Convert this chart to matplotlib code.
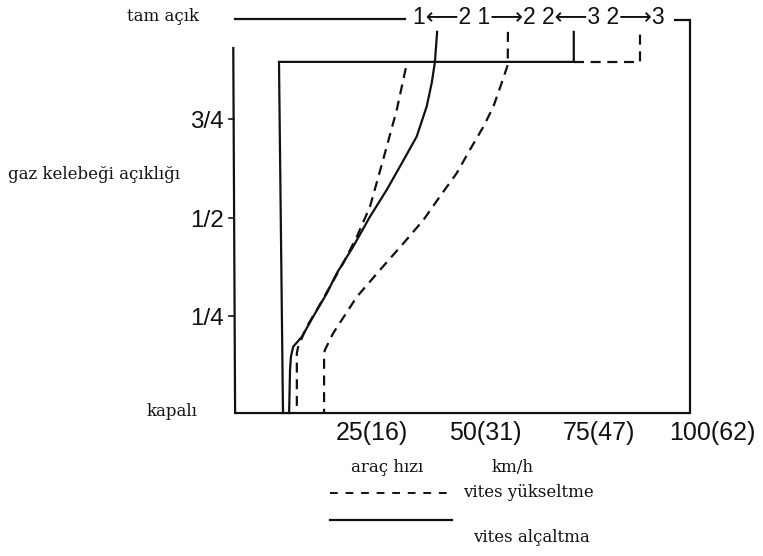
import matplotlib
matplotlib.use("Agg")
import matplotlib.pyplot as plt
from matplotlib.transforms import offset_copy

# Shift map of a two/three speed automatic: vehicle speed (km/h) vs throttle opening
# (0 = kapalı / closed, 1 = tam açık / wide open)

# 1<-2 downshift line (solid)
down_12_speed = [44.3, 43.8, 43.1, 42.0, 39.8, 36.5, 33.2, 29.5, 25.8, 22.2,
                 20.0, 17.0, 14.5, 12.6, 12.1, 11.9, 11.7]
down_12_throttle = [0.970, 0.892, 0.840, 0.781, 0.705, 0.637, 0.570, 0.502, 0.426,
                    0.359, 0.308, 0.249, 0.198, 0.173, 0.148, 0.114, 0.005]

# inner dashed upshift line
up_a_speed = [37.4, 35.4, 32.4, 29.5, 26.6, 23.6, 20.7, 17.8, 15.6, 13.7, 13.4, 13.4]
up_a_throttle = [0.878, 0.772, 0.646, 0.527, 0.451, 0.384, 0.325, 0.266, 0.224,
                 0.173, 0.157, 0.005]

# 1->2 upshift line (dashed)
up_12_speed = [59.9, 59.85, 58.5, 56.7, 54.5, 51.5, 48.6, 44.9, 41.3, 36.9, 31.7,
               26.6, 21.4, 19.6, 19.4, 19.4]
up_12_throttle = [0.970, 0.886, 0.840, 0.781, 0.730, 0.671, 0.612, 0.553, 0.494,
                  0.435, 0.367, 0.299, 0.207, 0.165, 0.157, 0.005]

# closed-throttle boundary and full-throttle 2<-3 step (solid)
bound_speed = [10.35, 9.47, 74.4, 74.4]
bound_throttle = [0.005, 0.894, 0.894, 0.970]
# full-throttle 2->3 step (dashed)
step_23_speed = [74.4, 89.0, 89.0]
step_23_throttle = [0.894, 0.894, 0.970]

# outer frame
frame_speed = [-0.6, -0.2, 100.0, 100.0, 96.7]
frame_throttle = [0.929, 0.005, 0.005, 1.000, 1.000]
full_line_speed = [-0.2, 37.2]
full_line_throttle = [1.003, 1.003]

speed_ticks = [25, 50, 75, 100]
speed_labels = ["25(16)", "50(31)", "75(47)", "100(62)"]
throttle_ticks = [0.25, 0.5, 0.75]
throttle_labels = ["1/4", "1/2", "3/4"]
gear_label = "1\u27f52 1\u27f62 2\u27f53 2\u27f63"

W, H = 763, 556
fig = plt.figure(figsize=(W / 100, H / 100), dpi=100)
ax = fig.add_axes([0, 0, 1, 1])
# speed 0 -> x 236 px, 100 -> 690 px ; throttle 0 -> 415 px from top, 1 -> 20 px
x0, sx = 236.0, 4.54
y0, sy = 415.0, 395.0
ax.set_xlim(-x0 / sx, (W - x0) / sx)
ax.set_ylim((y0 - H) / sy, y0 / sy)
ax.axis("off")

ink = "#111111"
lw = 1.6
dash = (4.5, 3.0)
sans = ["Liberation Sans", "DejaVu Sans"]
fs_num = 18

ax.plot(frame_speed, frame_throttle, color=ink, lw=lw, solid_joinstyle="miter")
ax.plot(full_line_speed, full_line_throttle, color=ink, lw=lw)
ax.plot(bound_speed, bound_throttle, color=ink, lw=lw, solid_joinstyle="miter")
ax.plot(step_23_speed, step_23_throttle, color=ink, lw=lw, ls=(0, dash))
ax.plot(down_12_speed, down_12_throttle, color=ink, lw=lw)
ax.plot(up_a_speed, up_a_throttle, color=ink, lw=lw, ls=(0, dash))
ax.plot(up_12_speed, up_12_throttle, color=ink, lw=lw, ls=(0, dash))

# throttle ticks on the left axis
for t, lab in zip(throttle_ticks, throttle_labels):
    ax.plot([-1.6, -0.5], [t, t], color=ink, lw=1.2)
    ax.text(-2.6, t - 0.008, lab, ha="right", va="center", fontsize=17.5,
            family=sans, color=ink)

# speed labels: the km/h figure is centred on its position
for s, lab in zip(speed_ticks, speed_labels):
    ndig = len(lab.split("(")[0])
    tr = offset_copy(ax.transData, fig=fig, x=-ndig * 0.556 * fs_num / 2, y=0,
                     units="points")
    ax.text(s, -0.046, lab, transform=tr, ha="left", va="center", fontsize=fs_num,
            family=sans, color=ink)

ax.text(39.0, 1.006, gear_label, ha="left", va="center", fontsize=16.5,
        family=sans, color=ink)

serif = ["DejaVu Serif"]
fs = 12
ax.text(-8.2, 1.008, "tam açık", ha="right", va="center", fontsize=fs, family=serif, color=ink)
ax.text(-50.2, 0.608, "gaz kelebeği açıklığı", ha="left", va="center", fontsize=fs,
        family=serif, color=ink)
ax.text(-8.6, 0.010, "kapalı", ha="right", va="center", fontsize=fs, family=serif, color=ink)
ax.text(33.3, -0.134, "araç hızı", ha="center", va="center", fontsize=fs, family=serif, color=ink)
ax.text(61.0, -0.134, "km/h", ha="center", va="center", fontsize=fs, family=serif, color=ink)

# legend
ax.plot([20.7, 47.8], [-0.197, -0.197], color=ink, lw=1.4, ls=(0, (4, 4)))
ax.text(50.0, -0.197, "vites yükseltme", ha="left", va="center", fontsize=fs,
        family=serif, color=ink)
ax.plot([20.7, 47.6], [-0.266, -0.266], color=ink, lw=1.6)
ax.text(52.2, -0.311, "vites alçaltma", ha="left", va="center", fontsize=fs,
        family=serif, color=ink)

fig.savefig("out.png", dpi=100, facecolor="white")
